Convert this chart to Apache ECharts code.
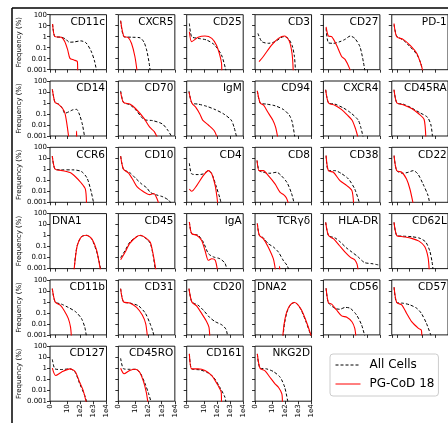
<!DOCTYPE html>
<html>
<head>
<meta charset="utf-8">
<script src="https://cdn.jsdelivr.net/npm/echarts@6/dist/echarts.min.js"></script>
<style>
  html, body { margin: 0; padding: 0; background: #fff; }
  #chart { width: 448px; height: 423px; }
</style>
</head>
<body>
<div id="chart"></div>
<script>
// Marker panels, read left to right, top to bottom
const markers = [
  'CD11c', 'CXCR5', 'CD25', 'CD3', 'CD27', 'PD-1',
  'CD14', 'CD70', 'IgM', 'CD94', 'CXCR4', 'CD45RA',
  'CCR6', 'CD10', 'CD4', 'CD8', 'CD38', 'CD22',
  'DNA1', 'CD45', 'IgA', 'TCRγδ', 'HLA-DR', 'CD62L',
  'CD11b', 'CD31', 'CD20', 'DNA2', 'CD56', 'CD57',
  'CD127', 'CD45RO', 'CD161', 'NKG2D'
];
const leftTitled = ['DNA1', 'DNA2'];

// Intensity ticks (raw values) and their labels; the axis is arcsinh-scaled
const xTickValues = [0, 1, 10, 100, 1000, 10000];
const xTickLabels = ['0', '1', '10', '1e2', '1e3', '1e4'];
// Frequency decades, from 10^-3 to 10^2 %
const yTickLabels = ['0.001', '0.01', '0.1', '1', '10', '100'];

// Each curve: [asinh(intensity), log10(frequency %)]
const allCellsCurves = [
  [[0.45,1.15],[0.87,0],[2.0,-0.05],[2.7,-0.2],[3.4,-0.5],[4.2,-0.48],[5.4,-0.38],[6.3,-0.55],[7.2,-1.3],[7.8,-2.2],[8.2,-3.2]],
  [[0.4,1.45],[1.0,0],[2.5,-0.05],[3.8,-0.1],[4.5,-0.5],[5.0,-1.3],[5.4,-2.4],[5.6,-3.2]],
  [[0.47,1.2],[0.87,0],[2.0,-0.15],[3.5,-0.3],[4.9,-0.76],[6.1,-1.67],[6.8,-2.9],[6.9,-3.2]],
  [[0.5,0.3],[1.2,-0.45],[2.4,-0.6],[3.5,-0.45],[5.0,0.0],[5.8,-0.15],[6.5,-0.8],[6.9,-1.8],[7.1,-3.2]],
  [[0.47,0.75],[0.87,-0.55],[1.75,-0.6],[2.9,-0.45],[3.8,-0.24],[4.7,0.06],[5.5,-0.15],[6.4,-0.9],[7.0,-2.27],[7.3,-3.2]],
  [[0.4,1.1],[0.87,0.06],[2.0,-0.3],[3.2,-0.9],[4.4,-1.6],[5.1,-2.4],[5.45,-3.2]],
  [[0.41,1.24],[0.87,0.06],[1.5,-0.1],[2.2,-0.5],[2.6,-0.94],[3.3,-0.8],[4.0,-0.62],[4.66,-0.58],[5.2,-1.1],[5.7,-2.0],[6.1,-3.2]],
  [[0.4,1.1],[0.9,0.05],[2,-0.15],[3,-0.6],[4.5,-1.5],[6,-1.6],[7.7,-1.9],[8.7,-2.5],[9.5,-3.2]],
  [[0.4,1.1],[0.9,0],[2,-0.1],[3.5,-0.3],[5,-0.6],[6.5,-1.0],[7.8,-1.55],[8.3,-2.2],[8.8,-3.2]],
  [[0.4,1.1],[0.9,0],[2,-0.1],[3.5,-0.25],[5,-0.6],[6.0,-1.1],[6.5,-1.7],[7.0,-3.2]],
  [[0.4,1.2],[0.9,0],[2,-0.1],[3.5,-0.45],[4.8,-0.9],[6.1,-1.55],[6.6,-2.3],[7.0,-3.2]],
  [[0.4,1.2],[0.9,0],[2,-0.1],[3.5,-0.45],[5,-0.9],[6.3,-1.3],[6.9,-2.0],[7.2,-3.2]],
  [[0.4,1.2],[0.9,0],[2,-0.05],[4,-0.05],[5.5,-0.2],[6.5,-0.8],[7.2,-2],[7.7,-3.2]],
  [[0.4,1.2],[0.9,0],[2,-0.3],[3,-0.8],[4,-1.3],[5.0,-1.7],[5.6,-2.1],[6.5,-2.3],[7.8,-2.5],[8.8,-2.8],[9.4,-3.2]],
  [[0.47,0.55],[0.87,-0.42],[2.0,-0.48],[2.9,-0.42],[3.8,-0.12],[4.4,-0.4],[5.2,-1.6],[5.8,-2.6],[6.1,-3.2]],
  [[0.35,0.8],[0.7,-0.12],[1.45,-0.27],[2.6,-0.36],[3.8,-0.27],[4.6,-0.58],[5.6,-1.2],[6.4,-2.2],[6.9,-3.2]],
  [[0.47,1.24],[0.87,-0.12],[2.0,-0.12],[3.2,-0.4],[4.4,-0.88],[5.5,-1.8],[6.4,-3.2]],
  [[0.41,1.24],[0.87,-0.12],[2.0,-0.36],[2.9,-0.27],[3.8,-0.12],[4.6,-0.42],[5.5,-1.33],[6.4,-2.4],[6.7,-3.2]],
  [[4.2,-3.2],[4.5,-1.7],[4.8,-0.85],[5.5,-0.1],[6.4,0.02],[7.3,-0.3],[8.2,-1.5],[8.8,-2.8],[8.95,-3.2]],
  [[0.4,-2.0],[1.2,-1.35],[2,-0.6],[3.2,-0.1],[3.9,0.0],[4.9,-0.3],[5.6,-0.7],[6.1,-1.8],[6.5,-3.2]],
  [[0.47,1.24],[0.87,0.18],[2.0,0.03],[2.9,-0.58],[3.8,-1.64],[4.7,-1.94],[5.8,-2.1],[6.7,-2.5],[7.1,-3.2]],
  [[0.4,1.1],[0.75,0.03],[1.45,-0.2],[2.3,-0.73],[3.2,-1.03],[4.1,-1.5],[5.0,-2.3],[5.6,-2.7],[6.0,-3.2]],
  [[0.4,1.2],[0.9,0],[2,-0.2],[3,-0.6],[4,-1.1],[5,-1.5],[6,-1.9],[7.2,-2.45],[8.5,-2.55],[9.5,-2.65],[9.9,-2.7]],
  [[0.4,1.2],[0.9,0],[2,-0.05],[3.5,-0.1],[5,-0.25],[6,-0.6],[6.7,-1.4],[7.1,-2.4],[7.3,-3.2]],
  [[0.4,1.2],[0.9,0],[2,-0.2],[3.2,-0.5],[4.5,-0.9],[5.5,-1.5],[6.1,-2.3],[6.4,-3.2]],
  [[0.4,1.2],[0.9,0],[2,-0.1],[3.5,-0.35],[4.7,-1.0],[5.5,-1.9],[6.0,-2.6],[6.3,-3.2]],
  [[0.4,1.2],[0.9,0],[2,-0.3],[3,-0.8],[4,-1.4],[5,-1.8],[6.2,-2.1],[6.9,-2.5],[7.2,-3.2]],
  [[4.9,-3.2],[5.15,-2.0],[5.55,-1.0],[6.05,-0.4],[6.5,-0.15],[6.9,-0.05],[7.4,-0.2],[8.1,-0.75],[9.0,-1.9],[9.6,-2.8],[9.8,-3.2]],
  [[0.47,1.24],[0.87,-0.06],[2.0,-0.58],[2.9,-0.67],[3.8,-0.5],[4.7,-0.58],[5.8,-1.18],[6.7,-2.1],[7.3,-3.2]],
  [[0.41,1.33],[0.87,-0.06],[2.0,-0.12],[3.2,-0.27],[4.4,-0.58],[5.2,-1.03],[6.1,-1.94],[7.0,-3.2]],
  [[0.41,0.8],[0.87,-0.06],[2.0,-0.12],[3.5,-0.06],[4.4,-0.36],[5.2,-1.4],[6.1,-2.5],[6.5,-3.2]],
  [[0.4,0.9],[0.9,-0.05],[2,-0.1],[3,-0.1],[3.8,-0.4],[4.6,-1.3],[5.3,-2.3],[5.8,-3.2]],
  [[0.47,1.3],[0.87,-0.06],[2.3,-0.15],[3.5,-0.36],[4.7,-0.82],[5.8,-1.73],[6.7,-2.64],[6.9,-3.2]],
  [[0.4,1.3],[0.87,0],[2.0,-0.06],[3.2,-0.3],[4.4,-0.82],[5.2,-1.73],[5.8,-3.2]]
];

const pgCod18Curves = [
  [[0.45,1.15],[0.87,0],[2.0,-0.06],[2.6,-0.45],[3.1,-1.2],[3.5,-1.97],[4.2,-2.12],[4.8,-2.27],[4.85,-3.2]],
  [[0.4,1.45],[1.0,0],[1.7,-0.06],[2.3,-0.6],[2.9,-1.8],[3.3,-3.2]],
  [[0.47,0.45],[0.87,-0.45],[2.0,-0.06],[3.2,0.06],[4.4,-0.15],[5.2,-0.76],[5.8,-1.67],[6.1,-2.4],[6.15,-3.2]],
  [[0.7,-2.27],[1.45,-1.8],[2.9,-0.76],[4.1,-0.15],[5.2,0.06],[6.0,-0.4],[6.5,-1.6],[6.7,-3.2]],
  [[0.47,0.9],[0.87,0.06],[1.45,0],[2.3,-0.76],[3.2,-1.8],[3.8,-2.06],[4.6,-2.9],[4.7,-3.2]],
  [[0.4,1.2],[0.87,0],[2.0,-0.24],[3.2,-0.76],[4.4,-1.5],[5.2,-2.6],[5.5,-3.2]],
  [[0.41,1.24],[0.87,0.06],[1.45,-0.1],[2.2,-0.5],[2.6,-0.9],[2.9,-1.7],[3.3,-3.2],[3.35,-3.5],[4.6,-3.5],[4.66,-2.55],[4.72,-3.5]],
  [[0.4,1.0],[0.9,0.05],[2,-0.1],[3,-0.5],[4.5,-1.4],[5.5,-2.2],[6.3,-2.6],[6.9,-3.2]],
  [[0.4,1.0],[0.9,0],[1.6,-0.4],[2.3,-1.0],[2.8,-1.55],[3.8,-2.0],[4.8,-2.5],[5.4,-3.2]],
  [[0.4,1.1],[0.9,0],[1.5,-0.2],[2.2,-0.8],[3.1,-1.55],[3.6,-2.2],[4.0,-3.2]],
  [[0.4,1.2],[0.9,0],[2,-0.2],[3.2,-0.6],[4.2,-1.1],[5.0,-1.55],[5.6,-2.3],[6.1,-3.2]],
  [[0.4,1.2],[0.9,0],[2,-0.15],[3.5,-0.5],[4.8,-1.0],[5.7,-1.5],[6.0,-3.2]],
  [[0.4,1.2],[0.9,0],[2,-0.1],[3.5,-0.3],[4.5,-0.7],[5.4,-1.2],[6.2,-1.8],[6.4,-3.2]],
  [[0.4,1.2],[0.9,0],[1.8,-0.35],[2.6,-1.0],[3.3,-1.6],[4.3,-2.0],[5.5,-2.3],[6.2,-2.2],[6.8,-2.7],[7.1,-3.2]],
  [[0.47,-1.79],[0.87,-2.0],[1.75,-1.48],[2.9,-0.58],[3.8,-0.12],[4.4,-0.42],[5.0,-1.5],[5.3,-2.5],[5.45,-3.2]],
  [[0.35,0.8],[0.7,-0.12],[1.45,-0.12],[2.33,-0.58],[3.5,-1.33],[4.4,-2.1],[5.0,-2.3],[5.5,-2.6],[5.9,-3.2]],
  [[0.47,1.24],[0.87,-0.12],[1.75,-0.27],[2.9,-1.03],[4.1,-1.48],[5.0,-1.94],[5.3,-3.2]],
  [[0.41,1.24],[0.87,-0.12],[1.75,-0.27],[2.6,-0.88],[3.2,-1.79],[3.8,-3.2]],
  [[4.2,-3.2],[4.5,-1.8],[4.8,-0.88],[5.5,-0.12],[6.4,0.03],[7.3,-0.27],[8.15,-1.3],[8.7,-2.7],[8.85,-3.2]],
  [[0.4,-2.2],[1.2,-1.5],[2,-0.7],[3.2,-0.1],[3.9,0.03],[4.9,-0.25],[5.6,-0.6],[6.1,-1.7],[6.6,-3.2]],
  [[0.47,1.24],[0.87,0.18],[1.75,0.03],[2.6,-0.42],[3.2,-1.33],[3.8,-2.24],[4.4,-2.1],[5.0,-2.24],[5.4,-3.2]],
  [[0.4,1.1],[0.75,0.03],[1.45,-0.27],[2.3,-1.03],[3.2,-2.1],[3.6,-3.2],[3.65,-3.5],[4.2,-3.5],[4.3,-2.8],[4.4,-3.5]],
  [[0.4,1.2],[0.9,0],[1.8,-0.3],[2.8,-0.9],[3.8,-1.5],[4.8,-2.0],[5.5,-2.2],[5.9,-2.6],[6.1,-3.2]],
  [[0.4,1.2],[0.9,0],[2,-0.1],[3.5,-0.25],[4.8,-0.5],[5.8,-1.0],[6.4,-2.0],[6.6,-3.2]],
  [[0.4,1.2],[0.9,0],[1.8,-0.3],[2.5,-0.8],[3.2,-1.5],[3.6,-2.3],[3.75,-3.2]],
  [[0.4,1.2],[0.9,0],[2,-0.1],[3.2,-0.5],[4.2,-1.2],[4.8,-2.0],[5.1,-3.2]],
  [[0.4,1.2],[0.9,0],[1.8,-0.4],[2.8,-1.2],[3.5,-1.8],[3.9,-2.3],[4.05,-3.2]],
  [[4.85,-3.2],[5.1,-2.0],[5.5,-1.0],[6.0,-0.4],[6.5,-0.12],[6.9,-0.06],[7.4,-0.2],[8.1,-0.7],[9.0,-1.8],[9.6,-2.7],[9.9,-3.2]],
  [[0.47,1.24],[0.87,-0.06],[1.45,-0.2],[2.3,-0.73],[3.2,-1.27],[4.1,-1.4],[5.0,-1.8],[5.5,-2.4],[5.7,-3.2]],
  [[0.41,1.33],[0.87,-0.06],[1.75,-0.27],[2.6,-1.03],[3.5,-1.8],[4.7,-2.4],[5.2,-2.55],[5.3,-3.2]],
  [[0.41,0.0],[0.99,-0.67],[2.0,-0.36],[3.5,-0.06],[4.4,-0.3],[5.2,-1.27],[5.8,-2.0],[6.4,-3.2]],
  [[0.4,0.0],[1.0,-0.5],[2.0,-0.2],[3.0,-0.1],[3.7,-0.35],[4.4,-1.2],[4.9,-2.2],[5.2,-3.2]],
  [[0.47,1.3],[0.87,-0.06],[2.0,-0.06],[3.2,-0.2],[4.4,-0.67],[5.5,-1.58],[6.05,-2.18],[6.1,-3.2]],
  [[0.4,1.3],[0.87,0],[1.75,-0.24],[2.6,-0.82],[3.5,-1.42],[4.1,-1.73],[4.7,-2.33],[4.8,-3.2]]
];

// ---- layout ----
const W = 448;
const COLS = 6;
const panelLeft0 = 50, panelTop0 = 14.7;
const colStep = 68.35, rowStep = 66.3;
const panelW = 56.5, panelH = 55;
const FONT = 'DejaVu Sans';
const xTickPos = xTickValues.map(v => Math.asinh(v));
const xMax = Math.asinh(10000);
// only the last row carries intensity labels
const lastRowStart = 30;

const grids = [], xAxes = [], yAxes = [], titles = [], series = [];

markers.forEach((name, i) => {
  const row = Math.floor(i / COLS), col = i % COLS;
  const left = panelLeft0 + col * colStep;
  const top = panelTop0 + row * rowStep;
  const firstCol = col === 0;
  const bottomRow = i >= lastRowStart;

  grids.push({
    left: left, top: top, width: panelW, height: panelH,
    show: true, borderColor: '#000', borderWidth: 0.9, backgroundColor: 'transparent'
  });

  xAxes.push({
    gridIndex: i, type: 'value', min: 0, max: xMax,
    axisLine: { show: false, onZero: false },
    splitLine: { show: false },
    axisTick: {
      show: true, inside: false, length: 3,
      customValues: xTickPos,
      lineStyle: { color: '#000', width: 0.8 }
    },
    axisLabel: {
      show: bottomRow,
      customValues: xTickPos,
      showMinLabel: true, showMaxLabel: true, hideOverlap: false,
      rotate: 90, margin: 3,
      fontSize: 7, color: '#000', fontFamily: FONT,
      formatter: v => {
        const k = xTickPos.findIndex(p => Math.abs(p - v) < 1e-6);
        return k >= 0 ? xTickLabels[k] : '';
      }
    }
  });

  yAxes.push({
    gridIndex: i, type: 'value', min: -3, max: 2, interval: 1,
    axisLine: { show: false, onZero: false },
    splitLine: { show: false },
    axisTick: { show: true, inside: false, length: 3, lineStyle: { color: '#000', width: 0.8 } },
    axisLabel: {
      show: firstCol, margin: 3,
      fontSize: 7, color: '#000', fontFamily: FONT,
      formatter: v => yTickLabels[Math.round(v) + 3]
    },
    name: firstCol ? 'Frequency (%)' : '',
    nameLocation: 'middle', nameGap: 27, nameRotate: 90,
    nameTextStyle: { fontSize: 7, color: '#000', fontFamily: FONT }
  });

  const t = {
    text: name, top: top + 2, padding: 0,
    textStyle: { fontSize: 10.5, fontWeight: 'normal', color: '#000', fontFamily: FONT }
  };
  if (leftTitled.includes(name)) t.left = left + 2;
  else t.right = W - (left + panelW) + 1.5;
  titles.push(t);

  series.push({
    type: 'line', name: 'All Cells', xAxisIndex: i, yAxisIndex: i,
    data: allCellsCurves[i], symbol: 'none', showSymbol: false,
    smooth: 0.25, clip: true, silent: true, z: 2,
    itemStyle: { color: '#000' },
    lineStyle: { color: '#000', width: 1, type: [3, 2] }
  });
  series.push({
    type: 'line', name: 'PG-CoD 18', xAxisIndex: i, yAxisIndex: i,
    data: pgCod18Curves[i], symbol: 'none', showSymbol: false,
    smooth: 0.25, clip: true, silent: true, z: 3,
    itemStyle: { color: '#ff0000' },
    lineStyle: { color: '#ff0000', width: 1.1 }
  });
});

const chart = echarts.init(document.getElementById('chart'), null, { renderer: 'canvas' });
chart.setOption({
  animation: false,
  backgroundColor: '#fff',
  textStyle: { fontFamily: FONT },
  title: titles,
  grid: grids,
  xAxis: xAxes,
  yAxis: yAxes,
  series: series,
  legend: {
    data: ['All Cells', 'PG-CoD 18'],
    orient: 'vertical',
    left: 330, top: 354,
    itemWidth: 25, itemHeight: 12, itemGap: 7,
    padding: [5, 4, 6, 5],
    backgroundColor: '#fff',
    borderColor: '#cccccc', borderWidth: 1, borderRadius: 3,
    selectedMode: false,
    itemStyle: { opacity: 0 },
    lineStyle: { width: 1 },
    textStyle: { fontSize: 12, color: '#000', fontFamily: FONT, padding: [0, 0, 0, 4] }
  },
  graphic: [
    { type: 'line', silent: true, shape: { x1: 12, y1: 8, x2: 448, y2: 8 }, style: { stroke: '#000', lineWidth: 1.5 } },
    { type: 'line', silent: true, shape: { x1: 12, y1: 8, x2: 12, y2: 423 }, style: { stroke: '#000', lineWidth: 1.5 } }
  ]
});
</script>
</body>
</html>
